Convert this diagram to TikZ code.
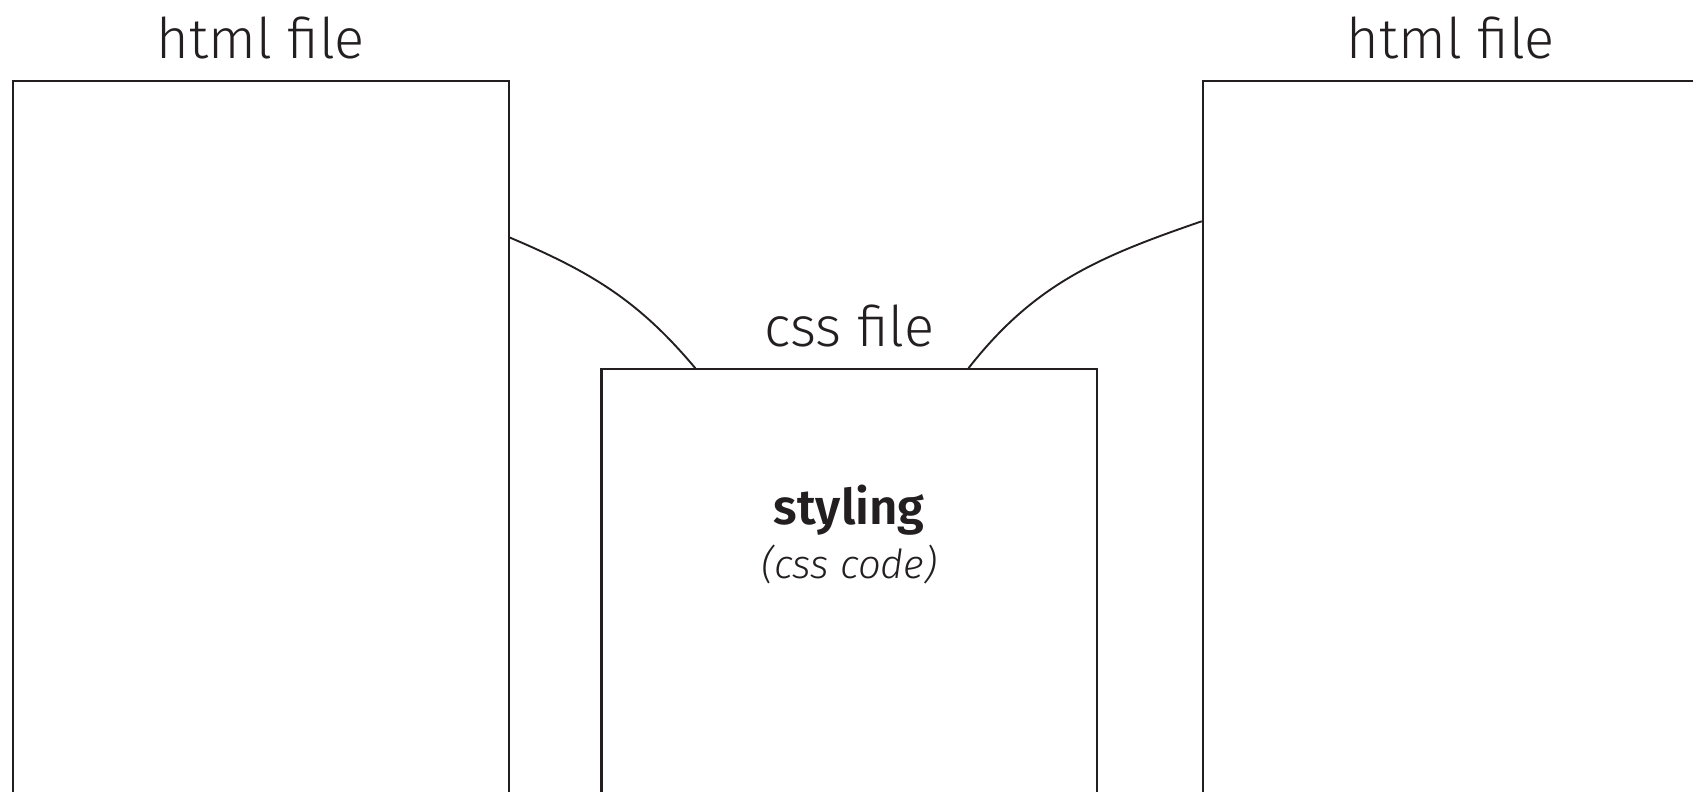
\documentclass[tikz,border=0pt]{standalone}
\usepackage{fontspec}
\setmainfont{Fira Sans}[UprightFont=* Light, ItalicFont=* Light Italic, BoldFont=* SemiBold]
\usepackage{xcolor}
\usepackage{tikz}
\usetikzlibrary{calc,positioning}
\definecolor{ink}{HTML}{231F20}

\begin{document}
\begin{tikzpicture}[
    x=0.5pt, y=0.5pt,
    nosep/.style={inner sep=0},
    filebox/.style={draw=ink, line width=1.1pt, rectangle, anchor=north west, nosep,
        minimum width=247.8pt, minimum height=420pt},
    filelabel/.style={text=ink, nosep, anchor=south, font=\fontsize{28}{30}\selectfont},
    link/.style={draw=ink, line width=0.95pt}]
\useasboundingbox (0,0) rectangle (1693,792);
\clip (0,0) rectangle (1693,792);

\node (htmlA) [filebox] at (11.9,712.1) {};
\node (htmlB) [filebox] at (1201.7,712.1) {};
\node (cssbox) [filebox] at (600.3,423.8) {};

\node (htmlAlabel) [filelabel, above=10.25pt of htmlA.north] {html file};
\node (htmlBlabel) [filelabel, above=10.25pt of htmlB.north] {html file};
\node (csslabel) [filelabel, above=10.25pt of cssbox.north] {css file};

\node (styling) [nosep, text=ink, anchor=base, font=\fontsize{24.6}{26}\selectfont\bfseries]
    at ([yshift=-78.25pt]cssbox.north) {styling};
\node (csscode) [nosep, text=ink, anchor=base, font=\fontsize{20}{22}\selectfont\itshape]
    at ([yshift=-26.8pt]styling.base) {(css code)};

\coordinate [below=78.8pt of htmlA.north east] (joinA);
\coordinate [below=70.7pt of htmlB.north west] (joinB);
\coordinate [right=47.5pt of cssbox.north west] (cssA);
\coordinate [right=184.1pt of cssbox.north west] (cssB);

\path[link] (joinA) to[out=-23, in=130] (cssA);
\path[link] (joinB) to[out=199, in=52] (cssB);

\end{tikzpicture}
\end{document}
